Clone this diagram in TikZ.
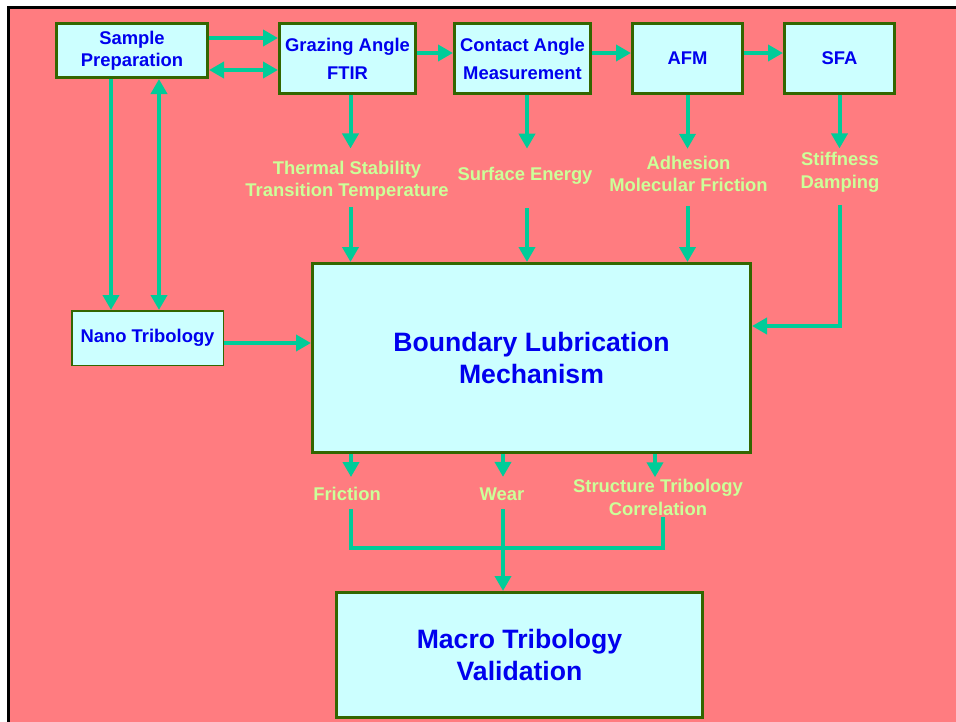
\documentclass[tikz,border=0pt]{standalone}
\usepackage{fontspec}
\setmainfont{Liberation Sans}
\usetikzlibrary{arrows.meta,calc}
\definecolor{slidepink}{HTML}{FF7C80}
\definecolor{boxcyan}{HTML}{CCFFFF}
\definecolor{boxedge}{HTML}{336600}
\definecolor{titleblue}{HTML}{0000EE}
\definecolor{flowteal}{HTML}{00CC99}
\definecolor{notegreen}{HTML}{CCFF99}
\newcommand\smalltxt{\fontsize{18.4}{22.5}\selectfont\bfseries}
\newcommand\widetxt{\fontsize{18.4}{28}\selectfont\bfseries}
\newcommand\bigtxt{\fontsize{26.6}{31.5}\selectfont\bfseries}
\begin{document}
\begin{tikzpicture}[x=1pt,y=-1pt,
  box/.style={draw=boxedge,line width=3pt,fill=boxcyan,text=titleblue,font=\smalltxt,align=center,inner sep=0pt},
  note/.style={text=notegreen,font=\smalltxt,align=center,inner sep=0pt},
  flow/.style={draw=flowteal,line width=4pt},
  arr/.style={flow,-{Triangle[length=15pt,width=16pt]}},
  twoway/.style={flow,{Triangle[length=15pt,width=16pt]}-{Triangle[length=15pt,width=16pt]}}]
\useasboundingbox (0,0) rectangle (956,721);
\clip (0,0) rectangle (956,721);
\fill[white] (0,0) rectangle (956,721);
% slide background with its frame
\filldraw[fill=slidepink,draw=black,line width=3pt] (8.5,7.5) rectangle (1000,800);

% instruments and stages
\node[box,minimum width=151pt,minimum height=54pt] (samp) at (132,50.5) {Sample\\Preparation};
\node[box,font=\widetxt,minimum width=136pt,minimum height=70pt] (graz) at (347.5,58.5) {Grazing Angle\\FTIR};
\node[box,font=\widetxt,minimum width=136pt,minimum height=70pt] (cont) at (522.5,58.5) {Contact Angle\\Measurement};
\node[box,minimum width=110pt,minimum height=70pt] (afm) at (687.5,58.5) {AFM};
\node[box,minimum width=110pt,minimum height=70pt] (sfa) at (839.5,58.5) {SFA};
\node[box,line width=1.5pt,minimum width=151.5pt,minimum height=54.5pt] (nano) at (147.5,338) {Nano Tribology};
\node[box,font=\bigtxt,minimum width=438pt,minimum height=189pt] (blm) at (531.5,358) {Boundary Lubrication\\Mechanism};
\node[box,font=\bigtxt,minimum width=366pt,minimum height=125pt] (macro) at (519.5,655) {Macro Tribology\\Validation};

% measured quantities
\node[note] (thermal) at (347,180.5) {Thermal Stability\\Transition Temperature};
\node[note] (surf) at (525,175.5) {Surface Energy};
\node[note] (adh) at (688.5,174) {Adhesion\\Molecular Friction};
\node[note] (stiff) at (840,172.5) {Stiffness\\Damping};
\node[note] (fric) at (347,494) {Friction};
\node[note] (wear) at (502,494.5) {Wear};
\node[note] (struct) at (658,497.5) {Structure Tribology\\Correlation};

% top row flow
\draw[arr] ($(samp.east)+(0,-12.5)$) -- ($(samp.east -| graz.west)+(0,-12.5)$);
\draw[twoway] ($(samp.east)+(0,19.5)$) -- ($(samp.east -| graz.west)+(0,19.5)$);
\draw[arr] ($(graz.east)+(0,-5.5)$) -- ($(graz.east -| cont.west)+(0,-5.5)$);
\draw[arr] ($(cont.east)+(0,-5.5)$) -- ($(cont.east -| afm.west)+(0,-5.5)$);
\draw[arr] ($(afm.east)+(0,-5.5)$) -- ($(afm.east -| sfa.west)+(0,-5.5)$);

% sample preparation and nano tribology
\draw[arr] ($(samp.south)+(-21,0)$) -- ($(samp.south |- nano.north)+(-21,0)$);
\draw[twoway] ($(samp.south)+(27,0)$) -- ($(samp.south |- nano.north)+(27,0)$);
\draw[arr] ($(nano.east)+(0,5)$) -- ($(nano.east -| blm.west)+(0,5)$);

% measurement outputs into the mechanism
\draw[arr] ($(graz.south)+(3,0)$) -- ($(graz.south |- thermal.north)+(3,-12)$);
\draw[arr] ($(graz.south |- thermal.south)+(3,6)$) -- ($(graz.south |- blm.north)+(3,0)$);
\draw[arr] ($(cont.south)+(4.5,0)$) -- ($(cont.south |- surf.north)+(4.5,-18)$);
\draw[arr] ($(cont.south |- surf.south)+(4.5,24)$) -- ($(cont.south |- blm.north)+(4.5,0)$);
\draw[arr] (afm.south) -- ($(afm.south |- adh.north)+(0,-7)$);
\draw[arr] ($(afm.south |- adh.south)+(0,14)$) -- (afm.south |- blm.north);
\draw[arr] (sfa.south) -- ($(sfa.south |- stiff.north)+(0,-4)$);
\draw[arr] ($(sfa.south |- stiff.south)+(0,12)$) |- ($(blm.east)+(0,-32)$);

% results and validation
\draw[arr] ($(blm.south -| fric.north)+(4,0)$) -- ($(fric.north)+(4,-10)$);
\draw[arr] ($(blm.south -| wear.north)+(1,0)$) -- ($(wear.north)+(1,-11)$);
\draw[arr] ($(blm.south -| struct.north)+(-3,0)$) -- ($(struct.north)+(-3,-2)$);
\draw[flow] ($(fric.south)+(4,8)$) |- ($(struct.south)+(5,32)$) -- ($(struct.south)+(5,1)$);
\draw[arr] ($(wear.south)+(1,8)$) -- ($(wear.south |- macro.north)+(1,0)$);
\end{tikzpicture}
\end{document}
